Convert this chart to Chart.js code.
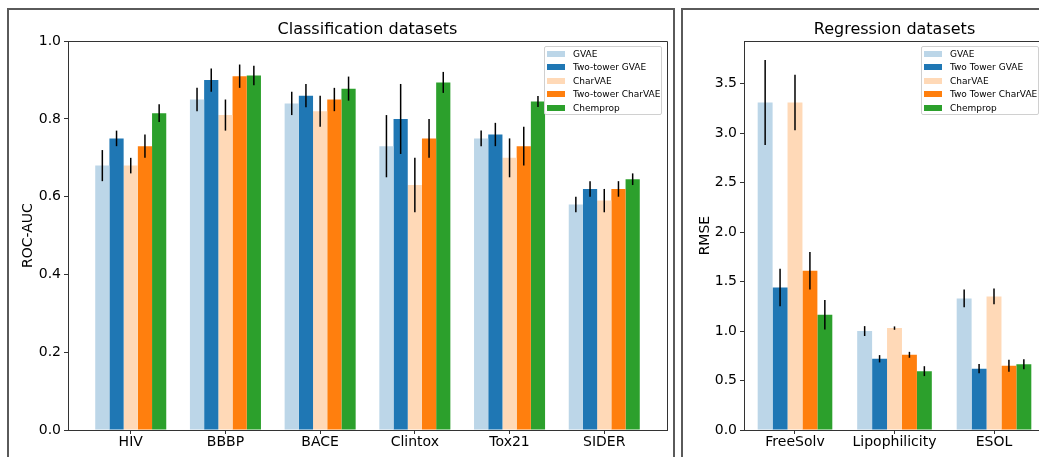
<!DOCTYPE html>
<html lang="en">
<head>
<meta charset="utf-8">
<script src="https://cdn.jsdelivr.net/npm/chart.js@4.4.0/dist/chart.umd.min.js"></script>
<title>Classification and regression datasets</title>
<style>
  html, body { margin: 0; padding: 0; background: #fff; overflow: hidden; width: 1039px; height: 457px; }
  .frame { position: absolute; border: 2px solid #5a5a5a; box-sizing: border-box; }
  #frameL { left: 7px; top: 8px; width: 668px; height: 470px; }
  #frameR { left: 681px; top: 8px; width: 400px; height: 470px; }
  canvas { position: absolute; top: 0; }
  #chartL { left: 0; }
  #chartR { left: 683px; }
  .legend {
    position: absolute; top: 46px; height: 69px; box-sizing: border-box;
    border: 1px solid #d0d0d0; border-radius: 2px; background: rgba(255,255,255,0.8);
    font-family: 'DejaVu Sans', sans-serif; font-size: 9px; color: #000;
  }
  .legend .row { display: flex; align-items: center; height: 13.5px; white-space: nowrap; }
  .legend .patch { width: 18px; height: 6px; margin-left: 2px; margin-right: 8px; }
</style>
</head>
<body>
<div class="frame" id="frameL"></div>
<div class="frame" id="frameR"></div>
<canvas id="chartL" width="675" height="457"></canvas>
<canvas id="chartR" width="370" height="457"></canvas>
<div class="legend" id="legendL" style="left:544px;width:118px"></div>
<div class="legend" id="legendR" style="left:921px;width:118px"></div>

<script>
  // classification datasets (ROC-AUC)
  const classCategories = ['HIV', 'BBBP', 'BACE', 'Clintox', 'Tox21', 'SIDER'];
  const classModels = ['GVAE', 'Two-tower GVAE', 'CharVAE', 'Two-tower CharVAE', 'Chemprop'];
  const classTicks = [0, 0.2, 0.4, 0.6, 0.8, 1.0];

  const gvaeAuc = [0.68, 0.85, 0.84, 0.73, 0.75, 0.58];
  const gvaeAucErr = [0.04, 0.03, 0.03, 0.08, 0.02, 0.02];
  const twoTowerGvaeAuc = [0.75, 0.90, 0.86, 0.80, 0.76, 0.62];
  const twoTowerGvaeAucErr = [0.02, 0.03, 0.03, 0.09, 0.03, 0.02];
  const charVaeAuc = [0.68, 0.81, 0.82, 0.63, 0.70, 0.59];
  const charVaeAucErr = [0.02, 0.04, 0.04, 0.07, 0.05, 0.03];
  const twoTowerCharVaeAuc = [0.73, 0.91, 0.85, 0.75, 0.73, 0.62];
  const twoTowerCharVaeAucErr = [0.03, 0.03, 0.03, 0.05, 0.05, 0.02];
  const chempropAuc = [0.815, 0.912, 0.878, 0.894, 0.845, 0.645];
  const chempropAucErr = [0.023, 0.025, 0.031, 0.027, 0.014, 0.015];

  // regression datasets (RMSE)
  const regCategories = ['FreeSolv', 'Lipophilicity', 'ESOL'];
  const regModels = ['GVAE', 'Two Tower GVAE', 'CharVAE', 'Two Tower CharVAE', 'Chemprop'];
  const regTicks = [0, 0.5, 1.0, 1.5, 2.0, 2.5, 3.0, 3.5];

  const gvaeRmse = [3.31, 1.00, 1.33];
  const gvaeRmseErr = [0.43, 0.05, 0.09];
  const twoTowerGvaeRmse = [1.44, 0.72, 0.62];
  const twoTowerGvaeRmseErr = [0.19, 0.037, 0.047];
  const charVaeRmse = [3.31, 1.03, 1.35];
  const charVaeRmseErr = [0.28, 0.017, 0.08];
  const twoTowerCharVaeRmse = [1.61, 0.76, 0.65];
  const twoTowerCharVaeRmseErr = [0.19, 0.03, 0.06];
  const chempropRmse = [1.165, 0.595, 0.665];
  const chempropRmseErr = [0.15, 0.05, 0.05];

  const modelColors = ['#bcd6e8', '#1f77b4', '#ffd9b7', '#ff7f0e', '#2ca02c'];

  const FONT = 'DejaVu Sans';
  const AXIS = '#333';

  // vertical error bars from each dataset's errors array
  const errorBars = {
    id: 'errorBars',
    afterDatasetsDraw(chart) {
      const ctx = chart.ctx, yScale = chart.scales.y;
      ctx.save();
      ctx.strokeStyle = '#000';
      ctx.lineWidth = 1.5;
      chart.data.datasets.forEach((ds, di) => {
        chart.getDatasetMeta(di).data.forEach((bar, i) => {
          const v = ds.data[i].y, e = ds.errors[i];
          ctx.beginPath();
          ctx.moveTo(bar.x, yScale.getPixelForValue(v + e));
          ctx.lineTo(bar.x, yScale.getPixelForValue(v - e));
          ctx.stroke();
        });
      });
      ctx.restore();
    }
  };

  // top and right spines
  const axesBox = {
    id: 'axesBox',
    afterDraw(chart) {
      const a = chart.chartArea, ctx = chart.ctx;
      ctx.save();
      ctx.strokeStyle = AXIS;
      ctx.lineWidth = 1;
      ctx.beginPath();
      ctx.moveTo(Math.round(a.left) + 0.5, Math.round(a.top) + 0.5);
      ctx.lineTo(Math.round(a.right) + 0.5, Math.round(a.top) + 0.5);
      ctx.lineTo(Math.round(a.right) + 0.5, Math.round(a.bottom) + 0.5);
      ctx.stroke();
      ctx.restore();
    }
  };

  function makeDatasets(models, series, errors) {
    return models.map((name, k) => ({
      label: name,
      data: series[k].map((v, i) => ({ x: i, y: v })),
      errors: errors[k],
      backgroundColor: modelColors[k],
      borderWidth: 0,
      categoryPercentage: 0.75,
      barPercentage: 1.0
    }));
  }

  function makeChart(canvasId, cfg) {
    return new Chart(document.getElementById(canvasId), {
      type: 'bar',
      data: { datasets: makeDatasets(cfg.models, cfg.series, cfg.errors) },
      options: {
        responsive: false,
        animation: false,
        layout: { padding: { left: 0, right: 8, top: 0, bottom: 0 } },
        plugins: {
          legend: { display: false },
          tooltip: { enabled: false },
          title: {
            display: true, text: cfg.title, fullSize: false, color: '#000',
            font: { family: FONT, size: 16, weight: 'normal' },
            padding: { top: 20, bottom: 2 }
          }
        },
        scales: {
          x: {
            type: 'linear',
            offset: false,
            min: cfg.xMin, max: cfg.xMax,
            afterBuildTicks: s => { s.ticks = cfg.categories.map((c, i) => ({ value: i })); },
            afterFit: s => { s.height = 27; },
            ticks: {
              autoSkip: false, color: '#000', padding: 0,
              font: { family: FONT, size: 14 },
              callback: v => cfg.categories[v]
            },
            grid: { offset: false, drawOnChartArea: false, tickLength: 4, color: AXIS },
            border: { color: AXIS }
          },
          y: {
            min: 0, max: cfg.yMax,
            afterBuildTicks: s => { s.ticks = cfg.yTicks.map(v => ({ value: v })); },
            afterFit: s => { s.width = cfg.yWidth; },
            ticks: {
              color: '#000', padding: 3,
              font: { family: FONT, size: 14 },
              callback: v => v.toFixed(1)
            },
            grid: { drawOnChartArea: false, tickLength: 4, color: AXIS },
            border: { color: AXIS },
            title: {
              display: true, text: cfg.yTitle, color: '#000',
              font: { family: FONT, size: 14 },
              padding: { top: cfg.yTitlePad, bottom: 0 }
            }
          }
        }
      },
      plugins: [errorBars, axesBox]
    });
  }

  function makeLegend(id, models) {
    const box = document.getElementById(id);
    models.forEach((name, k) => {
      const row = document.createElement('div');
      row.className = 'row';
      const patch = document.createElement('span');
      patch.className = 'patch';
      patch.style.background = modelColors[k];
      const label = document.createElement('span');
      label.textContent = name;
      row.appendChild(patch);
      row.appendChild(label);
      box.appendChild(row);
    });
  }

  makeChart('chartL', {
    title: 'Classification datasets',
    categories: classCategories,
    models: classModels,
    series: [gvaeAuc, twoTowerGvaeAuc, charVaeAuc, twoTowerCharVaeAuc, chempropAuc],
    errors: [gvaeAucErr, twoTowerGvaeAucErr, charVaeAucErr, twoTowerCharVaeAucErr, chempropAucErr],
    xMin: -0.6625, xMax: 5.6625,
    yMax: 1.0, yTicks: classTicks,
    yTitle: 'ROC-AUC', yWidth: 68, yTitlePad: 20
  });

  makeChart('chartR', {
    title: 'Regression datasets',
    categories: regCategories,
    models: regModels,
    series: [gvaeRmse, twoTowerGvaeRmse, charVaeRmse, twoTowerCharVaeRmse, chempropRmse],
    errors: [gvaeRmseErr, twoTowerGvaeRmseErr, charVaeRmseErr, twoTowerCharVaeRmseErr, chempropRmseErr],
    xMin: -0.5125, xMax: 2.5125,
    yMax: 3.93, yTicks: regTicks,
    yTitle: 'RMSE', yWidth: 61, yTitlePad: 14
  });

  makeLegend('legendL', classModels);
  makeLegend('legendR', regModels);
</script>
</body>
</html>
